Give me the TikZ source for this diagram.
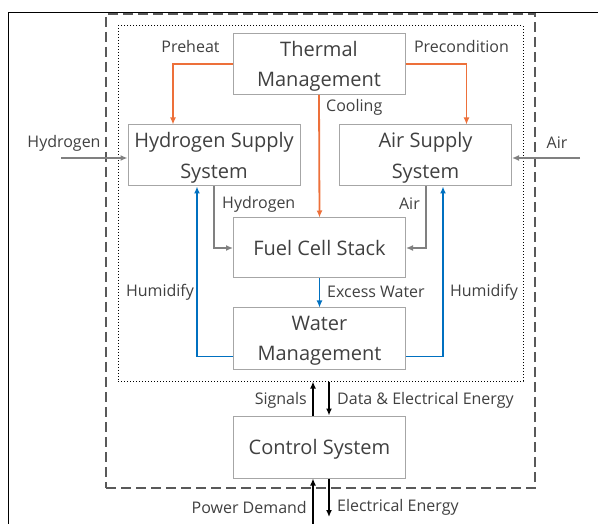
\documentclass[tikz,border=0pt]{standalone}
\usepackage{fontspec}
\usetikzlibrary{arrows.meta}
\setmainfont{Open Sans}
\definecolor{txtgray}{RGB}{64,64,64}
\definecolor{boxgray}{RGB}{166,166,166}
\definecolor{flowgray}{RGB}{128,128,128}
\definecolor{heatorange}{RGB}{237,112,58}
\definecolor{waterblue}{RGB}{0,112,192}
\definecolor{dashgray}{RGB}{89,89,89}
\begin{document}
\begin{tikzpicture}[x=1pt, y=-1pt, >={Latex[length=7pt,width=6pt]},
	block/.style={draw=boxgray, line width=1pt, minimum width=172pt, minimum height=61pt, align=center, text=txtgray, text depth=0pt, font=\fontsize{20}{30.5}\selectfont},
	lbl/.style={text=txtgray, font=\fontsize{16}{18}\selectfont, inner sep=1pt},
	heat/.style={->, heatorange, line width=1.8pt},
	water/.style={->, waterblue, line width=1.8pt},
	gas/.style={->, flowgray, line width=2pt},
	ctl/.style={->, black, line width=1.6pt}]
	\useasboundingbox (0,0) rectangle (598,524);
	\draw[black, line width=1.2pt] (8.5,524) |- (598,12.5);
	% frames
	\node[draw=dashgray, dash pattern=on 10pt off 5pt, line width=1.4pt, minimum width=429pt, minimum height=474pt, inner sep=0pt] (plant) at (320.5,251) {};
	\node[draw=black, dotted, line width=1pt, minimum width=405pt, minimum height=355pt, inner sep=0pt] (core) at (320.5,203.5) {};
	% blocks
	\node[block] (thermal) at (319,64) {Thermal\\Management};
	\node[block] (hss) at (214,155.5) {Hydrogen Supply\\System};
	\node[block] (ass) at (425.5,155.5) {Air Supply\\System};
	\node[block, minimum height=60pt] (fcs) at (319.5,248) {Fuel Cell Stack};
	\node[block] (wm) at (319.5,338.5) {Water\\Management};
	\node[block, minimum height=62pt] (ctrl) at (319.5,447) {Control System};
	% thermal paths
	\draw[heat] (thermal.west) -| ([xshift=-41pt]hss.north);
	\draw[heat] (thermal.east) -| ([xshift=41pt]ass.north);
	\draw[heat] (thermal.south) -- (fcs.north);
	\node[lbl] at (190.5,47) {Preheat};
	\node[lbl] at (461.5,47) {Precondition};
	\node[lbl, anchor=west] at (325,107) {Cooling};
	% reactants
	\coordinate (h2in) at (61,158);
	\coordinate (airin) at (580,158);
	\draw[gas] (h2in) -- (h2in -| hss.west);
	\draw[gas] (airin) -- (airin -| ass.east);
	\node[lbl] at (64,143) {Hydrogen};
	\node[lbl] at (557,143) {Air};
	\draw[gas] (hss.south) |- (fcs.west);
	\draw[gas] (ass.south) |- (fcs.east);
	\node[lbl, anchor=west] at (221,204) {Hydrogen};
	\node[lbl, anchor=east] at (421,204) {Air};
	% water paths
	\draw[water] (fcs.south) -- (wm.north);
	\draw[water] ([yshift=-18pt]wm.west) -| ([xshift=-17pt]hss.south);
	\draw[water] ([yshift=-18pt]wm.east) -| ([xshift=17.5pt]ass.south);
	\node[lbl, anchor=west] at (326,292) {Excess Water};
	\node[lbl] at (160,292) {Humidify};
	\node[lbl] at (484,292) {Humidify};
	% control
	\coordinate (upx) at (313,0);
	\coordinate (dnx) at (329,0);
	\coordinate (btm) at (0,524);
	\coordinate (btmtip) at (0,517);
	\draw[ctl] (ctrl.north -| upx) -- (core.south -| upx);
	\draw[ctl] (core.south -| dnx) -- (ctrl.north -| dnx);
	\draw[ctl] (btm -| upx) -- (ctrl.south -| upx);
	\draw[ctl] (ctrl.south -| dnx) -- (btmtip -| dnx);
	\node[lbl, anchor=east] at (308,400) {Signals};
	\node[lbl, anchor=west] at (336,400) {Data \& Electrical Energy};
	\node[lbl, anchor=east] at (308,507) {Power Demand};
	\node[lbl, anchor=west] at (336,507) {Electrical Energy};
\end{tikzpicture}
\end{document}
